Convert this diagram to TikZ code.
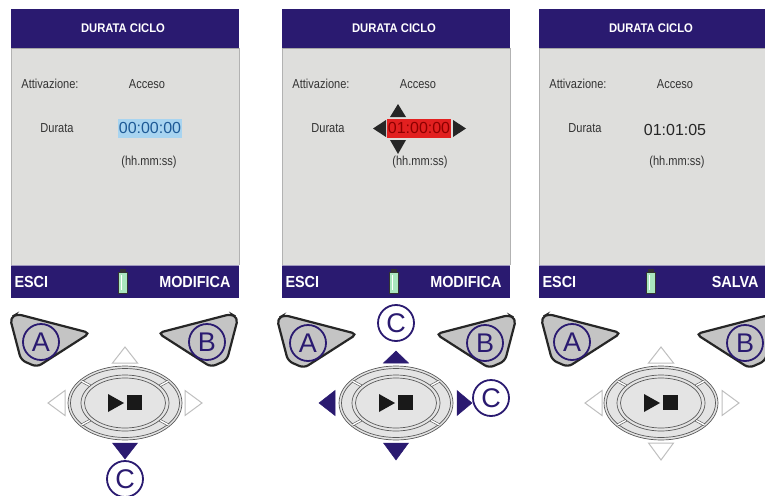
\documentclass[tikz,border=0pt]{standalone}
\usepackage{fontspec}
\setmainfont{Liberation Sans}
\newfontfamily\condfont[FakeStretch=0.85]{Liberation Sans}
\newfontfamily\keyfont[FakeStretch=0.9]{Liberation Sans}
\usetikzlibrary{calc}
\definecolor{navy1}{RGB}{42, 26, 112}
\definecolor{screen1}{RGB}{222, 222, 220}
\definecolor{key1}{RGB}{196, 196, 196}
\definecolor{pad1}{RGB}{228, 228, 228}
\definecolor{blue1}{RGB}{168, 212, 240}
\definecolor{blue2}{RGB}{30, 90, 150}
\definecolor{red1}{RGB}{226, 32, 32}
\definecolor{red2}{RGB}{140, 0, 0}
\definecolor{green1}{RGB}{170, 230, 190}

\tikzset{
  title/.style={text=white, font=\keyfont\bfseries\fontsize{12.5}{14}\selectfont},
  field/.style={text=black!80, font=\condfont\fontsize{13}{15}\selectfont},
  softkey/.style={text=white, font=\keyfont\bfseries\fontsize{16}{18}\selectfont},
  value/.style={font=\fontsize{16}{18}\selectfont, inner xsep=1, inner ysep=0, minimum height=19},
  letter/.style={circle, draw=navy1, line width=1.8, minimum size=36, inner sep=0, text=navy1, font=\fontsize{27}{27}\selectfont},
  keyshape/.style={fill=key1, draw=black!85, line width=2.2, rounded corners=5},
  padline/.style={draw=black!65, line width=.7},
  hint/.style={draw=black!25, fill=white, line width=1},
  press/.style={fill=navy1, draw=navy1, line width=.5}
}

\begin{document}
\begin{tikzpicture}[x=1pt, y=-1pt]
  \useasboundingbox (0,0) rectangle (765,495);
  \clip (0,0) rectangle (765,495);

  % screens
  \foreach \ox/\key in {11/MODIFICA, 282/MODIFICA, 539/SALVA}{
    \begin{scope}[xshift=\ox]
      \fill[screen1] (0,9) rectangle (228,298);
      \draw[black!30, line width=.6] (0,48) -- (0,265) (228,48) -- (228,265);
      \fill[navy1] (0,9) rectangle (228,48);
      \fill[navy1] (0,265) rectangle (228,298);
      \draw[black!35, line width=.8] (0,48) -- (228,48);
      \draw[navy1!45, line width=.8] (0,265) -- (228,265);
      \node[title] (head\ox) at (112,28) {DURATA CICLO};
      \node[field] (act\ox) at (39,84) {Attivazione:};
      \node[field] (on\ox) at (136,84) {Acceso};
      \node[field] (dur\ox) at (46,128) {Durata};
      \node[field] (fmt\ox) at (138,162) {(hh.mm:ss)};
      \node[softkey, anchor=west] (esc\ox) at (0,282) {ESCI};
      \node[softkey, anchor=east] (soft\ox) at (223,282) {\key};
      % battery
      \fill[black!80] (109,269) rectangle (115,272);
      \draw[black!80, fill=green1, line width=.8] (107.5,272) rectangle (116.5,293);
      \draw[white, line width=1.2] (110.5,275) -- (110.5,290);
    \end{scope}
  }

  \node[value, fill=blue1, text=blue2] (val1) at (150,128) {00:00:00};
  \node[value, fill=red1, text=red2] (val2) at (419,128) {01:00:00};
  \node[value, text=black!85] (val3) at (675,130) {01:01:05};

  % edit arrows
  \fill[black!85] (386,120) -- (386,137) -- (373,128.5) -- cycle;
  \fill[black!85] (453,120) -- (453,137) -- (466,128.5) -- cycle;
  \fill[black!85] (390,117) -- (406,117) -- (398,104) -- cycle;
  \fill[black!85] (390,140) -- (406,140) -- (398,154) -- cycle;

  % keys A and B
  \foreach \cx/\cy [count=\i] in {41/342, 308/343, 572/342}{
    \begin{scope}[shift={(\cx,\cy)}]
      \draw[keyshape] (-31,-24) -- (-24,-28) -- (49,-9) -- (-4,25) -- (-20,18) -- cycle;
      \node[letter] (a\i) at (0,0) {A};
    \end{scope}
  }
  \foreach \cx/\cy [count=\i] in {207/342, 485/343, 745/343}{
    \begin{scope}[shift={(\cx,\cy)}, xscale=-1]
      \draw[keyshape] (-31,-24) -- (-24,-28) -- (49,-9) -- (-4,25) -- (-20,18) -- cycle;
      \node[letter] (b\i) at (0,0) {B};
    \end{scope}
  }

  % navigation pads
  \foreach \px in {125, 396, 661}{
    \begin{scope}[shift={(\px,403)}]
      \filldraw[padline, fill=pad1] (0,0) ellipse (57 and 37);
      \draw[padline] (0,0) ellipse (54.5 and 34.5);
      \foreach \a in {38,142,218,322}
        \draw[black!65, double=white, double distance=1.4, line width=.6] (\a:44 and 28) -- (\a:55 and 35.5);
      \filldraw[padline, fill=pad1] (0,0) ellipse (44 and 28);
      \draw[padline] (0,0) ellipse (40.5 and 25);
      \fill[black!90] (-17,-9) -- (-1,0) -- (-17,9) -- cycle;
      \fill[black!90] (2,-8) rectangle (17,7);
    \end{scope}
  }

  % direction marks
  \begin{scope}[shift={(125,403)}]
    \draw[hint] (-12.5,-40) -- (12.5,-40) -- (0,-56) -- cycle;
    \draw[hint] (-60,-12.5) -- (-60,12.5) -- (-77,0) -- cycle;
    \draw[hint] (60,-12.5) -- (60,12.5) -- (77,0) -- cycle;
    \filldraw[press] (-12.5,40) -- (12.5,40) -- (0,56) -- cycle;
  \end{scope}
  \begin{scope}[shift={(396,403)}]
    \filldraw[press] (-12.5,-40) -- (12.5,-40) -- (0,-52) -- cycle;
    \filldraw[press] (-61,-12.5) -- (-61,12.5) -- (-77,0) -- cycle;
    \filldraw[press] (61,-12.5) -- (61,12.5) -- (76,0) -- cycle;
    \filldraw[press] (-12.5,40) -- (12.5,40) -- (0,57) -- cycle;
  \end{scope}
  \begin{scope}[shift={(661,403)}]
    \draw[hint] (-12.5,-40) -- (12.5,-40) -- (0,-56) -- cycle;
    \draw[hint] (-59,-12.5) -- (-59,12.5) -- (-76,0) -- cycle;
    \draw[hint] (61,-12.5) -- (61,12.5) -- (78,0) -- cycle;
    \draw[hint] (-12.5,40) -- (12.5,40) -- (0,57) -- cycle;
  \end{scope}

  % key C
  \node[letter, fill=white] (c1) at (125,479) {C};
  \node[letter, fill=white] (c2) at (396,323) {C};
  \node[letter, fill=white] (c3) at (491,398) {C};
\end{tikzpicture}
\end{document}
